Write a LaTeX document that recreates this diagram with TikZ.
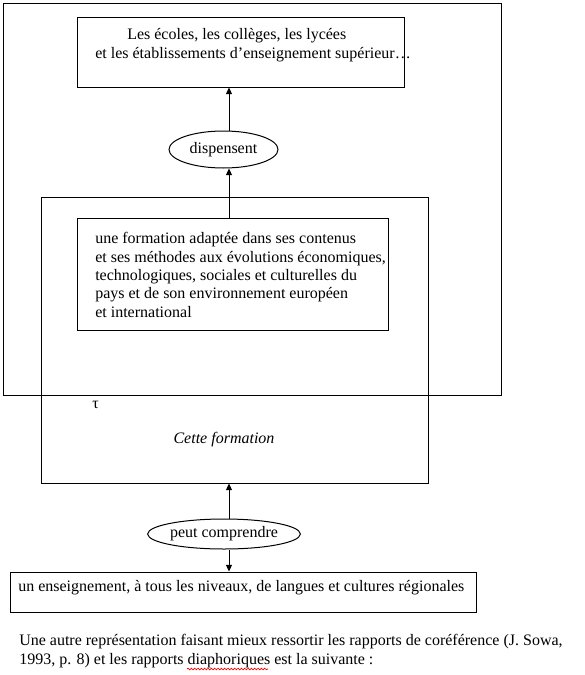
\documentclass[tikz,border=0pt]{standalone}
\usepackage{fontspec}
\setmainfont{Liberation Serif}
\usetikzlibrary{shapes.geometric,arrows.meta,decorations.pathmorphing}
\def\px{0.75pt}
\tikzset{
	box/.style={draw, line width=\px, rectangle, inner sep=0pt},
	rel/.style={draw, line width=\px, ellipse, inner sep=0pt},
	txt/.style={anchor=west, inner sep=0pt, align=left},
	arr/.style={line width=\px, -{Triangle[length=5pt,width=4.5pt]}}
}

\begin{document}
\begin{tikzpicture}[x=\px, y=-\px, font=\fontsize{12pt}{13.8pt}\selectfont]
		%%%%% START %%%%%
		\useasboundingbox (0,0) rectangle (585,675);
		\coordinate (ax) at (229,0);
		
		\draw[line width=\px] (3,3) rectangle (501,395);
		
		\node[box, minimum width=327*\px, minimum height=70*\px] (etabl) at (240.5,52) {};
		\node[txt] (etabltxt) at (95,45) {\hspace*{24pt}Les écoles, les collèges, les lycées\\et les établissements d’enseignement supérieur…};
		
		\node[rel, minimum width=109*\px, minimum height=37*\px] (disp) at (223.5,149.5) {dispensent};
		
		\node[box, minimum width=387*\px, minimum height=286*\px] (formation) at (234.5,340) {};
		\node[box, minimum width=311*\px, minimum height=112*\px] (formbox) at (232.5,274) {};
		\node[txt] (formtxt) at (95,275) {une formation adaptée dans ses contenus\\et ses méthodes aux évolutions économiques,\\technologiques, sociales et culturelles du\\pays et de son environnement européen\\et international};
		
		\node[txt] (tau) at (92,405) {τ};
		\node (cette) at (224,440) {\itshape Cette formation};
		
		\node[rel, minimum width=134*\px, minimum height=30*\px] (peut) at (224,534) {peut comprendre};
		
		\node[box, minimum width=466*\px, minimum height=40*\px] (enseign) at (243,592) {};
		\node[txt] (enseigntxt) at (18,588) {un enseignement, à tous les niveaux, de langues et cultures régionales};
		
		\draw[arr] (disp.north -| ax) -- (etabl.south -| ax);
		\draw[arr] (formbox.north -| ax) -- (disp.south -| ax);
		\draw[arr] (peut.north -| ax) -- (formation.south -| ax);
		\draw[arr] (peut.south -| ax) -- (enseign.north -| ax);
		
		\node[txt] (para1) at (19,642) {Une autre représentation faisant mieux ressortir les rapports de coréférence (J. Sowa,};
		\node[txt] (para2) at (19,661) {1993, p. 8) et les rapports diaphoriques est la suivante :};
		\draw[red, line width=0.5pt, decorate, decoration={snake, amplitude=0.6pt, segment length=2.5pt}] (187,669) -- (268,669);
		%%%%% END %%%%%
\end{tikzpicture}
\end{document}
